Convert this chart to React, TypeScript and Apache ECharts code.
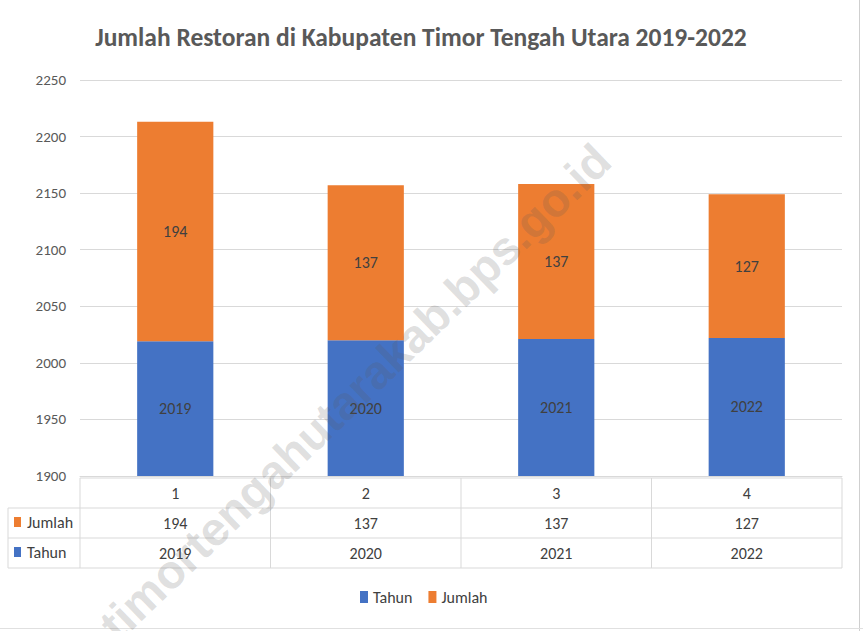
import React, { useEffect, useRef } from "react";
import * as echarts from "echarts";

const categories = ["1", "2", "3", "4"];
const tahun = [2019, 2020, 2021, 2022];
const jumlah = [194, 137, 137, 127];
const titleText = "Jumlah Restoran di Kabupaten Timor Tengah Utara 2019-2022";
const watermark = "timortengahutarakab.bps.go.id";
const yMin = 1900;
const yMax = 2250;
const yInterval = 50;

const FONT = "Carlito, 'Liberation Sans Narrow', 'DejaVu Sans Condensed', 'Open Sans', sans-serif";
const BLUE = "#4472C4";
const ORANGE = "#ED7D31";
const TXT = "#595959";
const LINE = "#d9d9d9";

export default function App() {
  const ref = useRef<HTMLDivElement>(null);
  useEffect(() => {
    document.body.style.margin = "0";
    const chart = echarts.init(ref.current!, null, { renderer: "svg" });
    const L = 80, R = 842, T = 80, B = 476;
    const rowH = 30;
    const rows = [478, 508, 538, 568];
    const colW = (R - L) / categories.length;
    const lines: any[] = [];
    lines.push({ type: "line", shape: { x1: L, y1: rows[0], x2: R, y2: rows[0] }, style: { stroke: LINE, lineWidth: 1 } });
    for (let i = 1; i < rows.length; i++) {
      lines.push({ type: "line", shape: { x1: 8, y1: rows[i], x2: R, y2: rows[i] }, style: { stroke: LINE, lineWidth: 1 } });
    }
    lines.push({ type: "line", shape: { x1: 8, y1: rows[1], x2: 8, y2: rows[3] }, style: { stroke: LINE, lineWidth: 1 } });
    for (let i = 0; i <= categories.length; i++) {
      const x = L + i * colW;
      lines.push({ type: "line", shape: { x1: x, y1: rows[0], x2: x, y2: rows[3] }, style: { stroke: LINE, lineWidth: 1 } });
    }
    const rowLabel = (name: string, color: string, y: number) => [
      { type: "rect", shape: { x: 14, y: y - 5, width: 7, height: 10 }, style: { fill: color } },
      { type: "text", x: 27, y, style: { text: name, font: `16px ${FONT}`, fill: "#404040", verticalAlign: "middle", align: "left" } },
    ];
    chart.setOption({
      animation: false,
      backgroundColor: "#fff",
      title: {
        text: titleText,
        left: 416,
        textAlign: "center",
        top: 19,
        textStyle: { fontFamily: FONT, fontSize: 25.5, fontWeight: "bold", color: TXT },
      },
      legend: {
        bottom: 21,
        left: 355,
        itemWidth: 8,
        itemHeight: 12,
        itemGap: 16,
        icon: "rect",
        textStyle: { fontFamily: FONT, fontSize: 16, color: "#404040" },
        data: ["Tahun", "Jumlah"],
      },
      grid: { left: L, right: 863 - R, top: T, bottom: 631 - B, containLabel: false },
      xAxis: [
        {
          type: "category",
          data: categories,
          axisLine: { lineStyle: { color: LINE } },
          axisTick: { show: false },
          axisLabel: { fontFamily: FONT, fontSize: 16, color: "#404040", margin: 9 },
        },
        {
          type: "category",
          data: jumlah.map(String),
          position: "bottom",
          offset: rowH,
          axisLine: { show: false },
          axisTick: { show: false },
          axisLabel: { fontFamily: FONT, fontSize: 16, color: "#404040", margin: 9 },
        },
        {
          type: "category",
          data: tahun.map(String),
          position: "bottom",
          offset: rowH * 2,
          axisLine: { show: false },
          axisTick: { show: false },
          axisLabel: { fontFamily: FONT, fontSize: 16, color: "#404040", margin: 9 },
        },
      ],
      yAxis: {
        type: "value",
        min: yMin,
        max: yMax,
        interval: yInterval,
        axisLine: { show: false },
        axisTick: { show: false },
        axisLabel: { fontFamily: FONT, fontSize: 15, color: TXT, margin: 14, formatter: (v: number) => String(v) },
        splitLine: { lineStyle: { color: LINE } },
      },
      series: [
        {
          name: "Tahun",
          type: "bar",
          stack: "a",
          data: tahun,
          barWidth: "40%",
          itemStyle: { color: BLUE },
          label: { show: true, position: "inside", fontFamily: FONT, fontSize: 16, color: "#404040" },
        },
        {
          name: "Jumlah",
          type: "bar",
          stack: "a",
          data: jumlah,
          barWidth: "40%",
          itemStyle: { color: ORANGE },
          label: { show: true, position: "inside", fontFamily: FONT, fontSize: 16, color: "#404040" },
        },
      ],
      graphic: [
        ...lines,
        ...rowLabel("Jumlah", ORANGE, 522),
        ...rowLabel("Tahun", BLUE, 552),
        { type: "line", shape: { x1: 859.5, y1: 0, x2: 859.5, y2: 631 }, style: { stroke: "#cfcfcf", lineWidth: 1 } },
        { type: "line", shape: { x1: 0, y1: 628.5, x2: 863, y2: 628.5 }, style: { stroke: "#e0e0e0", lineWidth: 1 } },
        {
          type: "text",
          x: 355,
          y: 392,
          rotation: (44 * Math.PI) / 180,
          z: 100,
          style: {
            text: watermark,
            font: `bold 47px 'Liberation Sans', Arial, sans-serif`,
            fill: "rgba(90,90,90,0.2)",
            align: "center",
            verticalAlign: "middle",
          },
        },
      ],
    });
    return () => chart.dispose();
  }, []);
  return <div ref={ref} style={{ width: 863, height: 631 }} />;
}
